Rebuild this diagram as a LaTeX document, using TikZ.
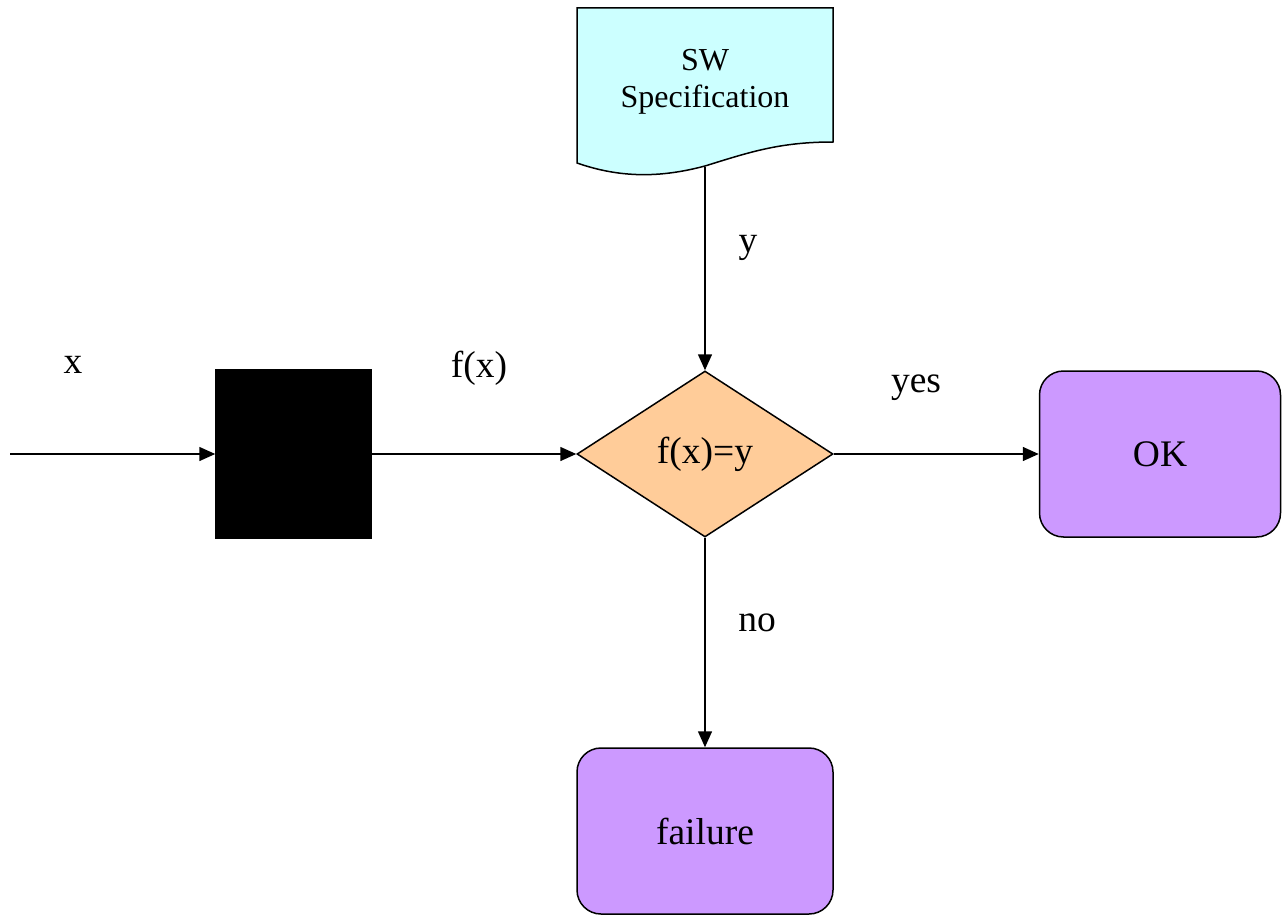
\documentclass[tikz,border=0pt]{standalone}
\usepackage{fontspec}
\setmainfont{Liberation Serif}
\usepackage{xcolor}
\usetikzlibrary{shapes.geometric,arrows.meta}
\definecolor{speccyan}{HTML}{CCFFFF}
\definecolor{testorange}{HTML}{FFCC99}
\definecolor{resultpurple}{HTML}{CC99FF}

\begin{document}
\begin{tikzpicture}[x=1pt,y=-1pt,line width=1.5pt,
    every node/.style={font=\fontsize{37.5}{44}\selectfont},
    arr/.style={-{Triangle[length=16pt,width=14pt]}},
    resultbox/.style={draw,fill=resultpurple,rounded corners=24pt,inner sep=0pt,minimum height=166pt}]
    \useasboundingbox (0,0) rectangle (1282,915);

    % 规格说明(文档形状)
    \draw[fill=speccyan] (577,8) -- (833,8) -- (833,142)
        .. controls (780,142) and (750,152) .. (705,166)
        .. controls (660,178) and (620,178) .. (577,163) -- cycle;
    \node[align=center,font=\fontsize{32}{37}\selectfont] (spec) at (705,82) {SW\\Specification};
    \coordinate (specbot) at (705,167);

    % 黑盒与判断
    \node[draw,fill=black,minimum width=155pt,minimum height=168pt,inner sep=0pt] (box) at (293.5,454) {};
    \node[draw,fill=testorange,diamond,minimum width=256pt,minimum height=166pt,inner sep=0pt] (test) at (705,454) {f(x)=y};

    % 结果
    \node[resultbox,minimum width=241pt] (ok) at (1160,454) {OK};
    \node[resultbox,minimum width=256pt] (fail) at (705,831) {failure};

    % 连线
    \coordinate (in) at (10,454);
    \draw[arr] (in) -- (box.west);
    \draw[arr] (box.east) -- (test.west);
    \draw[arr] (specbot) -- (test.north);
    \draw[arr] (test.east) -- (ok.west);
    \draw[arr] (test.south) -- (fail.north);

    % 标签
    \node (lx) at (73,365) {x};
    \node (lfx) at (479,368) {f(x)};
    \node (ly) at (748,248) {y};
    \node (lyes) at (916,388) {yes};
    \node (lno) at (757,623) {no};
\end{tikzpicture}
\end{document}
